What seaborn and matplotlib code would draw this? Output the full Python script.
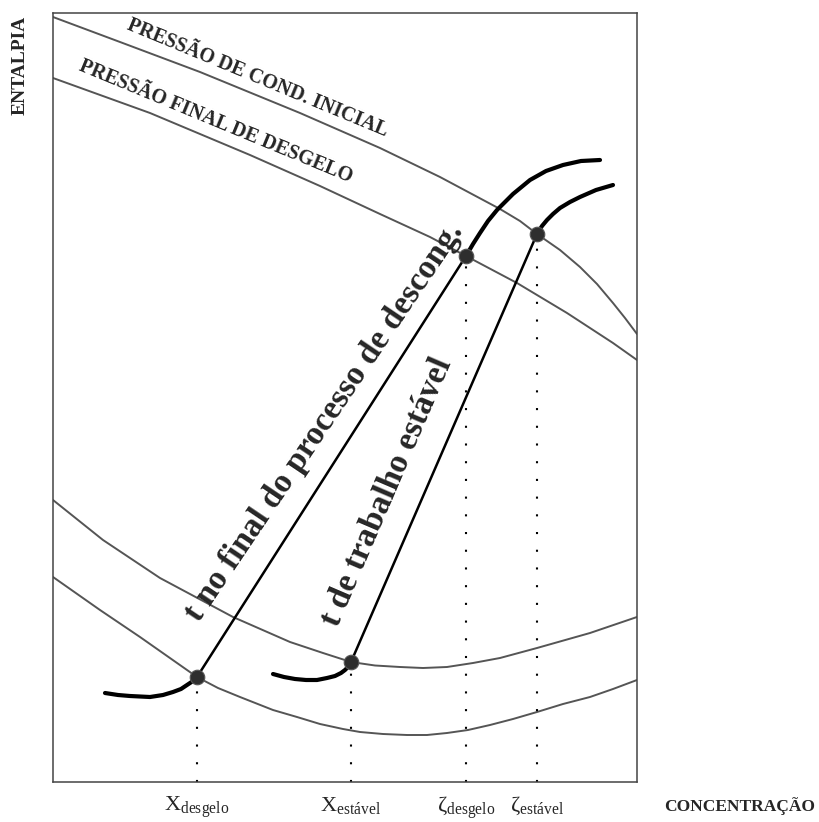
import matplotlib
matplotlib.use("Agg")
import matplotlib.pyplot as plt
import seaborn as sns

# Saturated vapour lines (upper curves) for the two pressures
vap_cond_x = [0, 67, 147, 247, 327, 387, 447, 467, 484, 507, 527, 544, 560, 572, 584]
vap_cond_y = [765, 740, 710, 669, 634, 605, 573, 561, 548, 532, 515, 498, 479, 464, 448]
vap_desg_x = [0, 97, 197, 267, 327, 377, 413, 464, 514, 560, 584]
vap_desg_y = [704, 669, 627, 596, 568, 545, 526, 499, 469, 439, 422]

# Saturated liquid lines (lower curves) for the two pressures
liq_cond_x = [0, 50, 107, 180, 237, 270, 298, 322, 347, 370, 394, 420, 447, 484, 537, 584]
liq_cond_y = [282, 242, 204, 165, 140, 129, 120, 116.5, 115, 114, 115, 119, 124, 134, 149, 165]
liq_desg_x = [0, 47, 87, 144, 165, 187, 220, 244, 267, 290, 307, 330, 354, 374, 394, 415,
              437, 460, 484, 510, 537, 560, 584]
liq_desg_y = [205, 172, 145, 105, 94, 85, 72, 65, 58, 53, 50, 48, 47, 47, 49, 52,
              57, 63, 70, 78, 85, 93, 102]

# State points: liquid / vapour ends of the two isotherms
point_x = [144, 298, 413, 484]
point_y = [105, 120, 526, 548]
point_labels = [r"$\mathrm{X}_{\mathrm{desgelo}}$", r"$\mathrm{X}_{\mathrm{estável}}$",
                r"$\mathrm{ζ}_{\mathrm{desgelo}}$", r"$\mathrm{ζ}_{\mathrm{estável}}$"]

# Isotherm branches outside the two-phase zone
iso_desg_liq_x = [52, 65, 77, 97, 110, 120, 128, 134, 140, 144]
iso_desg_liq_y = [89, 87, 86, 85, 87, 90, 93, 97, 101, 105]
iso_desg_vap_x = [413, 420, 427, 435, 444, 460, 477, 493, 510, 528, 547]
iso_desg_vap_y = [526, 538, 549, 561, 572, 588, 602, 611, 617, 621, 622]
iso_est_liq_x = [220, 231, 242, 253, 264, 274, 282, 288, 292, 296, 298]
iso_est_liq_y = [108, 105, 103, 102, 102, 104, 106, 109, 112, 116, 120]
iso_est_vap_x = [484, 489, 494, 500, 507, 517, 527, 543, 560]
iso_est_vap_y = [548, 556, 562, 568, 574, 580, 585, 592, 597]

sns.set_theme(style="white")
plt.rcParams["font.family"] = ["Liberation Serif", "DejaVu Serif"]
plt.rcParams["mathtext.fontset"] = "custom"
plt.rcParams["mathtext.rm"] = "Liberation Serif"
plt.rcParams["mathtext.it"] = "Liberation Serif:italic"
plt.rcParams["mathtext.bf"] = "Liberation Serif:bold"

fig = plt.figure(figsize=(8.2, 8.22), dpi=100)
ax = fig.add_axes([53 / 820, 40 / 822, 584 / 820, 769 / 822])

grey = "#555555"
for xs, ys in [(vap_cond_x, vap_cond_y), (vap_desg_x, vap_desg_y),
               (liq_cond_x, liq_cond_y), (liq_desg_x, liq_desg_y)]:
    sns.lineplot(x=xs, y=ys, sort=False, estimator=None, color=grey, lw=1.4, ax=ax)

# Two-phase tie lines
for i, j in [(0, 2), (1, 3)]:
    sns.lineplot(x=[point_x[i], point_x[j]], y=[point_y[i], point_y[j]], sort=False,
                 estimator=None, color="black", lw=1.8, ax=ax)

for xs, ys in [(iso_desg_liq_x, iso_desg_liq_y), (iso_desg_vap_x, iso_desg_vap_y),
               (iso_est_liq_x, iso_est_liq_y), (iso_est_vap_x, iso_est_vap_y)]:
    sns.lineplot(x=xs, y=ys, sort=False, estimator=None, color="black", lw=3.0,
                 solid_capstyle="round", solid_joinstyle="round", ax=ax)

ax.vlines(point_x, 0, point_y, colors="black", lw=1.5, linestyles=(0, (1, 7.5)))
sns.scatterplot(x=point_x, y=point_y, s=110, color="#2e2e2e", edgecolor="#555555",
                linewidth=0.8, zorder=5, ax=ax)

ax.set_xlim(0, 584)
ax.set_ylim(0, 769)
ax.set_xticks(point_x)
ax.set_xticklabels(point_labels, fontsize=16)
ax.tick_params(axis="x", length=0, pad=9)
ax.set_yticks([])
for sp in ax.spines.values():
    sp.set_color("#444444")
    sp.set_linewidth(1.1)
    sp.set_visible(True)

ax.set_xlabel("CONCENTRAÇÃO", fontsize=12.5, fontweight="bold", va="center", ha="center")
ax.xaxis.set_label_coords(1.176, -0.031)
ax.set_ylabel("ENTALPIA", fontsize=14, fontweight="bold", va="center", ha="center")
ax.yaxis.set_label_coords(-0.0565, 0.932)

ax.text(204, 704, "PRESSÃO DE COND. INICIAL", fontsize=14.5, fontweight="bold",
        fontstyle="normal", rotation=-22.5, rotation_mode="anchor", ha="center", va="center")
ax.text(163, 660, "PRESSÃO FINAL DE DESGELO", fontsize=14.5, fontweight="bold",
        fontstyle="normal", rotation=-22.5, rotation_mode="anchor", ha="center", va="center")
ax.text(271, 360, "t no final do processo de descong.", fontsize=24, fontweight="bold",
        fontstyle="normal", rotation=56, rotation_mode="anchor", ha="center", va="center")
ax.text(334, 290, "t de trabalho estável", fontsize=24, fontweight="bold",
        fontstyle="normal", rotation=66.8, rotation_mode="anchor", ha="center", va="center")

fig.savefig("out.png", dpi=100, facecolor="white")
